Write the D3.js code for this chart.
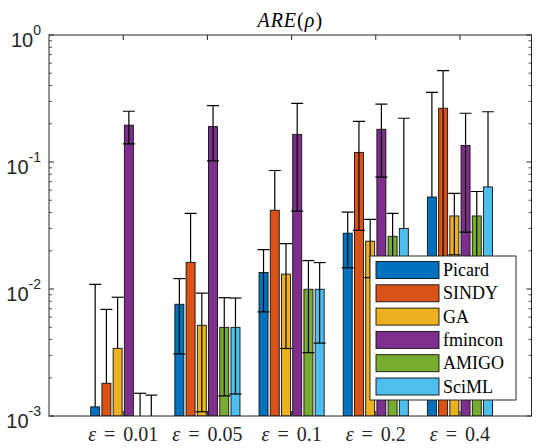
<!DOCTYPE html>
<html>
<head>
<meta charset="utf-8">
<script src="https://cdn.jsdelivr.net/npm/d3@7"></script>
<style>
  body { margin: 0; background: #fff; }
</style>
</head>
<body>
<div id="chart"></div>
<script>
// ---- data ----
const groups = ["0.01", "0.05", "0.1", "0.2", "0.4"];
const methods = ["Picard", "SINDY", "GA", "fmincon", "AMIGO", "SciML"];
const colors = ["#0072BD", "#D95319", "#EDB120", "#7E2F8E", "#77AC30", "#4DBEEE"];

const picard = [0.00118, 0.00758, 0.0135, 0.0275, 0.053];
const picardErr = [0.0097, 0.0045, 0.0069, 0.0128, 0.30];
const sindy = [0.00181, 0.0162, 0.0417, 0.119, 0.265];
const sindyErr = [0.0051, 0.0232, 0.044, 0.090, 0.259];
const ga = [0.00341, 0.00518, 0.0131, 0.0238, 0.0376];
const gaErr = [0.0052, 0.0041, 0.0097, 0.0115, 0.019];
const fmincon = [0.195, 0.190, 0.165, 0.181, 0.135];
const fminconErr = [0.056, 0.088, 0.124, 0.105, 0.107];
const amigo = [0.0005, 0.00499, 0.00995, 0.026, 0.0376];
const amigoErr = [0.00101, 0.00355, 0.0068, 0.0134, 0.021];
const sciml = [0.0005, 0.00499, 0.00995, 0.030, 0.0636];
const scimlErr = [0.00096, 0.0035, 0.0062, 0.191, 0.185];

const yTicks = [1e-3, 1e-2, 1e-1, 1];

const values = [picard, sindy, ga, fmincon, amigo, sciml];
const errors = [picardErr, sindyErr, gaErr, fminconErr, amigoErr, scimlErr];

// ---- layout ----
const W = 536, H = 448;
const plot = { left: 49, right: 531.5, top: 35, bottom: 416 };
const axisColor = "#262626";
const serifFont = "Liberation Serif, Times New Roman, serif";
const sansFont = "Liberation Sans, Arial, sans-serif";

const svg = d3.select("#chart").append("svg")
  .attr("width", W).attr("height", H);

const x = d3.scaleLinear().domain([0.118, 5.85]).range([plot.left, plot.right]);
const y = d3.scaleLog().domain([1e-3, 1]).range([plot.bottom, plot.top]);

// matlab grouped bar geometry
const nb = methods.length;
const groupWidth = Math.min(0.8, nb / (nb + 1.5));
const pitch = groupWidth / nb;
const barW = pitch * 0.8;
const offset = i => (i - (nb - 1) / 2) * pitch;

svg.append("clipPath").attr("id", "clip")
  .append("rect")
  .attr("x", plot.left).attr("y", plot.top)
  .attr("width", plot.right - plot.left).attr("height", plot.bottom - plot.top);

const body = svg.append("g").attr("clip-path", "url(#clip)");

// flatten into records
const recs = [];
methods.forEach((m, i) => {
  groups.forEach((g, j) => {
    recs.push({ m: i, g: j, v: values[i][j], e: errors[i][j] });
  });
});

// bars
body.selectAll("rect.bar")
  .data(recs.filter(d => d.v > y.domain()[0]))
  .join("rect")
  .attr("class", "bar")
  .attr("x", d => x(d.g + 1 + offset(d.m) - barW / 2))
  .attr("width", d => x(barW) - x(0))
  .attr("y", d => y(d.v))
  .attr("height", d => plot.bottom - y(d.v))
  .attr("fill", d => colors[d.m])
  .attr("stroke", "#111")
  .attr("stroke-width", 0.9);

// error bars: upper segment always, lower only when positive
const capHalf = 6;
const eb = body.append("g").attr("stroke", "#000").attr("stroke-width", 1.2).attr("fill", "none");
recs.forEach(d => {
  const cx = x(d.g + 1 + offset(d.m));
  const vy = d.v > 1e-6 ? y(d.v) : plot.bottom + 10;
  const up = d.v + d.e;
  const lo = d.v - d.e;
  eb.append("line").attr("x1", cx).attr("x2", cx)
    .attr("y1", Math.min(vy, plot.bottom + 10)).attr("y2", y(up));
  eb.append("line").attr("x1", cx - capHalf).attr("x2", cx + capHalf)
    .attr("y1", y(up)).attr("y2", y(up));
  if (lo > 0) {
    eb.append("line").attr("x1", cx).attr("x2", cx)
      .attr("y1", vy).attr("y2", y(lo));
    eb.append("line").attr("x1", cx - capHalf).attr("x2", cx + capHalf)
      .attr("y1", y(lo)).attr("y2", y(lo));
  }
});

// ---- axes box and ticks ----
const ax = svg.append("g").attr("stroke", axisColor).attr("fill", "none");
ax.append("rect")
  .attr("x", plot.left).attr("y", plot.top)
  .attr("width", plot.right - plot.left).attr("height", plot.bottom - plot.top)
  .attr("stroke-width", 1);

// minor + major y ticks on both sides
const minor = [];
for (let k = -3; k < 0; k++) for (let m = 2; m <= 9; m++) minor.push(m * Math.pow(10, k));
minor.forEach(v => {
  ax.append("line").attr("x1", plot.left).attr("x2", plot.left + 3).attr("y1", y(v)).attr("y2", y(v)).attr("stroke-width", 0.8);
  ax.append("line").attr("x1", plot.right).attr("x2", plot.right - 3).attr("y1", y(v)).attr("y2", y(v)).attr("stroke-width", 0.8);
});
yTicks.forEach(v => {
  ax.append("line").attr("x1", plot.left).attr("x2", plot.left + 5).attr("y1", y(v)).attr("y2", y(v));
  ax.append("line").attr("x1", plot.right).attr("x2", plot.right - 5).attr("y1", y(v)).attr("y2", y(v));
});
// x ticks top and bottom
groups.forEach((g, j) => {
  ax.append("line").attr("x1", x(j + 1)).attr("x2", x(j + 1)).attr("y1", plot.top).attr("y2", plot.top + 5);
  ax.append("line").attr("x1", x(j + 1)).attr("x2", x(j + 1)).attr("y1", plot.bottom).attr("y2", plot.bottom - 5);
});

// y tick labels 10^k
yTicks.forEach(v => {
  const t = svg.append("text")
    .attr("x", 41).attr("y", y(v) + 11.5)
    .attr("text-anchor", "end")
    .attr("fill", axisColor)
    .style("font-family", sansFont)
    .style("font-size", "20px");
  t.append("tspan").text("10");
  t.append("tspan").attr("dy", -11.5).style("font-size", "14px").text(Math.round(Math.log10(v)));
});

// x labels
groups.forEach((g, j) => {
  const t = svg.append("text")
    .attr("x", x(j + 1)).attr("y", 441)
    .attr("text-anchor", "middle")
    .attr("fill", axisColor)
    .style("font-family", serifFont)
    .style("font-size", "20px")
    .style("word-spacing", "3px");
  t.append("tspan").style("font-style", "italic").text("ε");
  t.append("tspan").text(" = " + g);
});

// title
const title = svg.append("text")
  .attr("x", (plot.left + plot.right) / 2).attr("y", 27)
  .attr("text-anchor", "middle")
  .attr("fill", "#000")
  .style("font-family", serifFont)
  .style("font-size", "20px")
  .style("letter-spacing", "1px");
title.append("tspan").style("font-style", "italic").text("ARE");
title.append("tspan").text("(");
title.append("tspan").style("font-style", "italic").text("ρ");
title.append("tspan").text(")");

// ---- legend ----
const lg = svg.append("g").attr("transform", "translate(370,256)");
lg.append("rect").attr("width", 146).attr("height", 144)
  .attr("fill", "#fff").attr("stroke", axisColor).attr("stroke-width", 1);
methods.forEach((m, i) => {
  const cy = 14 + i * 23.3;
  lg.append("rect").attr("x", 6).attr("y", cy - 8.5).attr("width", 63).attr("height", 17)
    .attr("fill", colors[i]).attr("stroke", "#111").attr("stroke-width", 0.9);
  lg.append("text").attr("x", 73).attr("y", cy + 6)
    .attr("fill", "#000")
    .style("font-family", serifFont)
    .style("font-size", "18px")
    .text(m);
});
</script>
</body>
</html>
